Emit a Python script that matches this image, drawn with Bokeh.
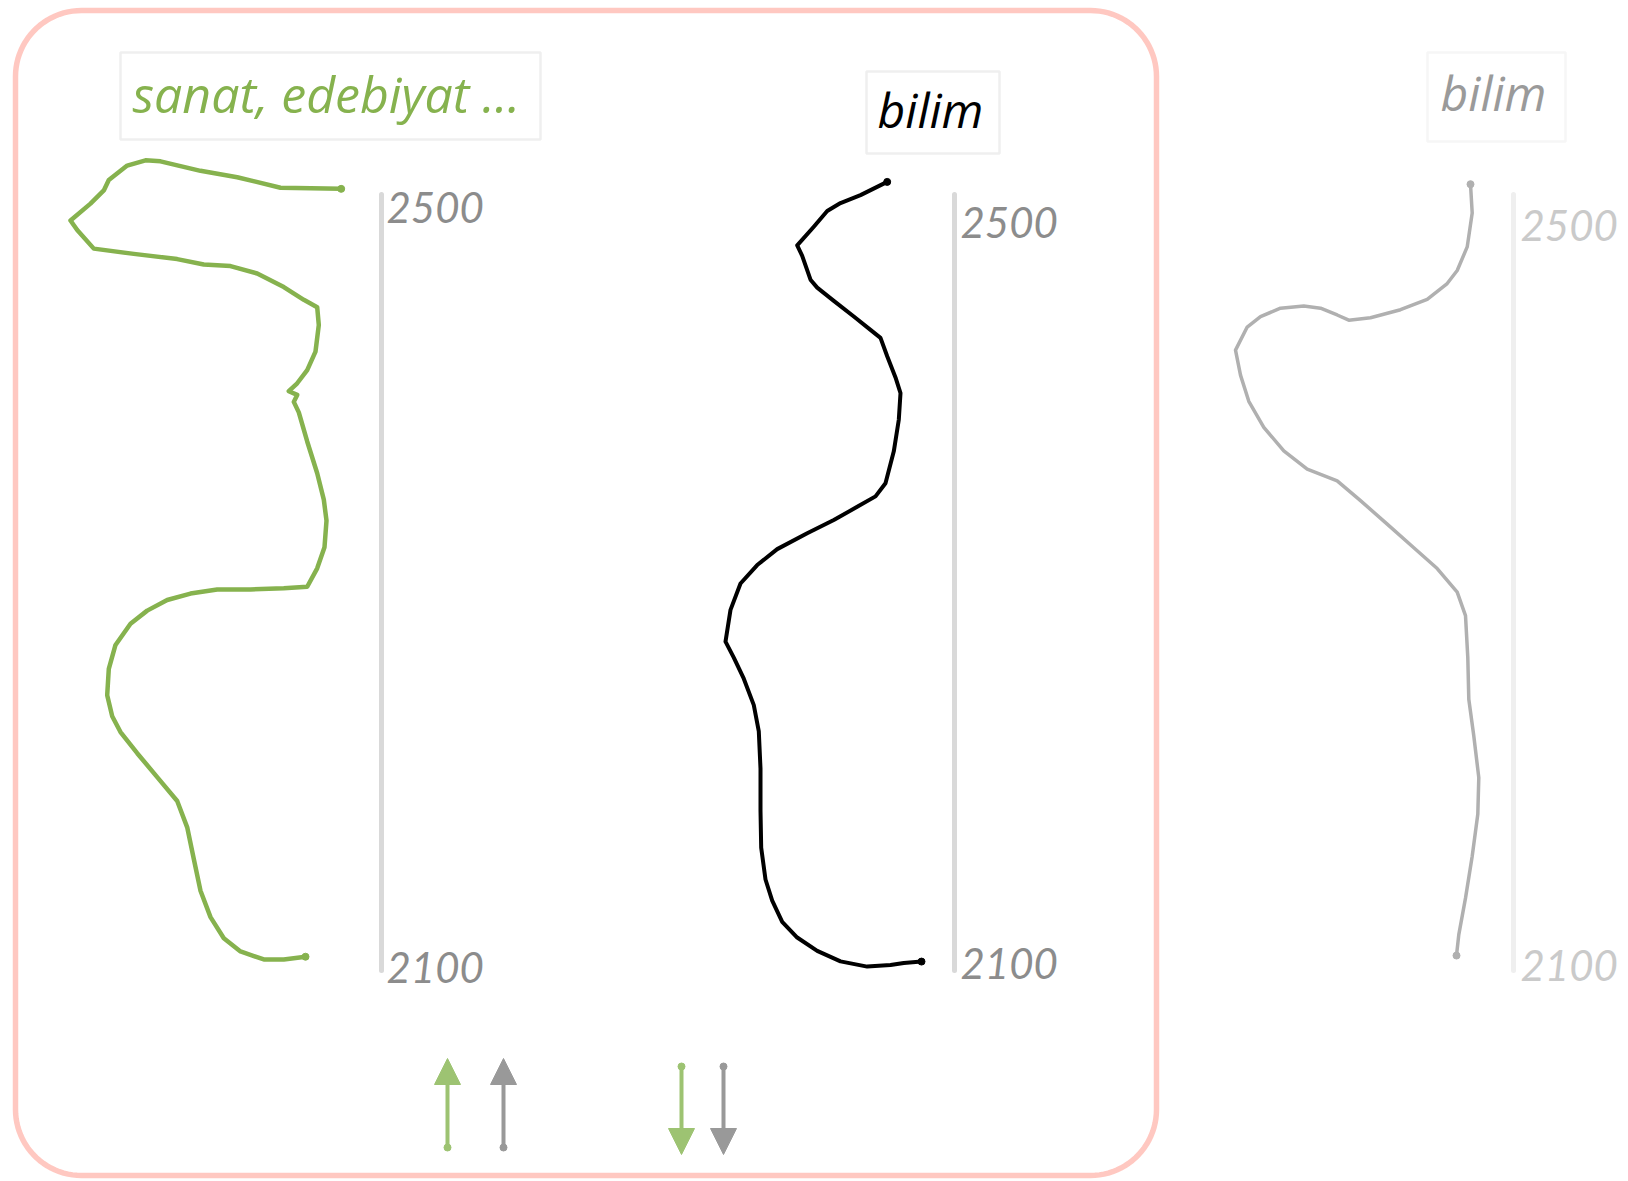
import numpy as np
from bokeh.plotting import figure
from bokeh.models import Range1d, Arrow, NormalHead
from bokeh.core.properties import value
from bokeh.embed import file_html
from bokeh.resources import INLINE

# ---------------- data ----------------
tick_years = [2500, 2100]
tick_labels = ["2500", "2100"]
titles = ["sanat, edebiyat …", "bilim", "bilim"]

sanat_x = [280.7, 220.0, 176.7, 140.0, 100.0, 85.0, 66.7, 48.3, 43.3, 30.0, 10.0, 16.7, 33.3,
           73.3, 116.7, 143.3, 170.0, 196.7, 223.3, 243.3, 256.7, 258.3, 255.0, 246.7, 236.7,
           228.3, 236.7, 233.3, 238.3, 246.7, 256.7, 263.3, 266.0, 264.0, 256.7, 246.7, 223.3,
           190.0, 156.7, 130.0, 106.7, 86.7, 70.0, 55.0, 48.3, 46.7, 51.7, 60.0, 76.7, 96.7,
           116.7, 126.7, 133.3, 140.0, 150.0, 163.3, 180.0, 203.3, 223.3, 245.0]
sanat_y = [2502.9, 2503.5, 2508.9, 2512.2, 2517.1, 2517.6, 2514.9, 2507.5, 2502.1, 2495.3,
           2486.6, 2481.7, 2472.1, 2469.4, 2466.7, 2463.9, 2463.1, 2459.3, 2452.3, 2445.7,
           2441.9, 2432.7, 2419.0, 2409.5, 2402.7, 2398.6, 2396.7, 2393.1, 2387.7, 2372.7,
           2356.3, 2342.7, 2331.9, 2318.2, 2307.3, 2297.8, 2297.0, 2296.4, 2296.4, 2294.3,
           2291.0, 2285.5, 2278.7, 2267.8, 2255.5, 2241.9, 2231.1, 2222.9, 2212.0, 2199.7,
           2187.4, 2173.8, 2157.5, 2141.1, 2127.5, 2116.6, 2109.8, 2105.7, 2105.7, 2107.1]

bilim_x = [186.7, 160.0, 140.0, 126.7, 113.3, 96.7, 101.7, 110.0, 116.7, 133.3, 153.3, 170.0,
           180.0, 186.7, 195.0, 200.0, 198.3, 193.3, 185.0, 175.0, 156.7, 133.3, 106.7, 76.7,
           56.7, 40.0, 30.0, 25.0, 33.3, 43.3, 53.3, 58.3, 60.0, 60.0, 60.7, 65.0, 71.7, 81.7,
           96.7, 116.7, 140.0, 166.7, 190.0, 203.3, 221.0]
bilim_y = [2506.5, 2499.7, 2495.6, 2491.5, 2483.4, 2473.8, 2468.4, 2456.1, 2452.0, 2445.2,
           2437.1, 2430.2, 2426.1, 2416.6, 2405.7, 2397.6, 2383.9, 2367.6, 2351.2, 2344.4,
           2339.0, 2332.2, 2325.4, 2317.2, 2309.0, 2299.5, 2285.9, 2269.5, 2261.3, 2250.4,
           2236.8, 2223.2, 2204.1, 2182.3, 2163.3, 2146.9, 2136.0, 2125.1, 2117.0, 2110.1,
           2104.7, 2102.0, 2102.8, 2103.9, 2104.6]

bilim2_x = [254.0, 255.7, 250.7, 240.7, 230.7, 210.7, 184.0, 154.0, 132.3, 120.7, 104.0, 87.3,
            64.0, 44.0, 30.7, 19.0, 24.0, 32.3, 47.3, 67.3, 90.7, 120.7, 144.0, 170.7, 197.3,
            220.7, 240.7, 249.0, 251.3, 252.3, 257.3, 262.3, 261.3, 255.7, 249.0, 242.3, 240.0]
bilim2_y = [2505.3, 2490.5, 2473.0, 2460.8, 2454.1, 2446.0, 2440.6, 2436.5, 2435.2, 2437.9,
            2441.4, 2442.5, 2441.4, 2437.1, 2431.7, 2419.8, 2406.9, 2393.4, 2380.0, 2367.8,
            2358.4, 2352.4, 2342.2, 2330.1, 2317.9, 2307.2, 2295.0, 2282.9, 2261.3, 2239.8,
            2220.9, 2199.4, 2180.5, 2158.9, 2137.3, 2118.5, 2107.7]

# ---------------- layout (figure pixel space, y down) ----------------
W, H = 1626, 1180
Y2500, Y2100 = 194.0, 970.0
b = 400.0 / (Y2100 - Y2500)
yr_start = 2500 - (H - Y2500) * b
yr_end = 2500 + Y2500 * b

p = figure(width=W, height=H, output_backend="svg", toolbar_location=None,
           x_range=Range1d(0, W), y_range=Range1d(H, 0),
           x_axis_type=None, y_axis_type=None, min_border=0,
           outline_line_color=None, background_fill_color="white",
           border_fill_color="white")
p.grid.visible = False
p.extra_y_ranges = {"yr": Range1d(yr_start, yr_end)}

panel_origin = [60, 700, 1216]
axis_x = [381, 954, 1513]
for i, o in enumerate(panel_origin):
    p.extra_x_ranges["p%d" % i] = Range1d(-o, W - o)

# outer rounded border
def rounded_rect(l, r, t, bt, rad, n=24):
    xs, ys = [], []
    corners = [(l + rad, t + rad, np.pi, 1.5 * np.pi),
               (r - rad, t + rad, 1.5 * np.pi, 2 * np.pi),
               (r - rad, bt - rad, 0, 0.5 * np.pi),
               (l + rad, bt - rad, 0.5 * np.pi, np.pi)]
    for cx, cy, a0, a1 in corners:
        a = np.linspace(a0, a1, n)
        xs.extend(cx + rad * np.cos(a))
        ys.extend(cy + rad * np.sin(a))
    xs.append(xs[0]); ys.append(ys[0])
    return xs, ys

bx, by = rounded_rect(15, 1156, 10, 1175, 66)
p.line(bx, by, line_color="#ffc8c1", line_width=5.5, line_join="round")

# title boxes
box_l = [120, 866, 1427]
box_r = [540, 999, 1565]
box_t = [52, 71, 52]
box_b = [139, 153, 141]
box_lc = ["#efefef", "#efefef", "#f6f6f6"]
p.quad(left=box_l, right=box_r, top=box_t, bottom=box_b, fill_color="white",
       line_color=box_lc, line_width=2.5)

title_x = [132, 930, 1493]
title_y = [93, 109, 92]
title_size = ["50px", "48px", "48px"]
title_align = ["left", "center", "center"]
title_col = ["#86b24e", "#000000", "#9a9a9a"]
for i in range(3):
    p.text(x=[title_x[i]], y=[title_y[i]], text=[titles[i]], text_align=title_align[i],
           text_baseline="middle", text_color=title_col[i],
           text_font=value("Open Sans"), text_font_style="italic",
           text_font_size=title_size[i])

# axes (vertical rules with end labels)
axis_col = ["#d9d9d9", "#d9d9d9", "#efefef"]
lab_col = ["#8c8c8c", "#8c8c8c", "#cacaca"]
lab_dx = [5, 6, 7]
lab_off = [[13, -3], [28, -7], [31, -5]]
for i in range(3):
    p.segment(x0=[axis_x[i]], y0=[tick_years[1]], x1=[axis_x[i]], y1=[tick_years[0]],
              y_range_name="yr", line_color=axis_col[i], line_width=5, line_cap="round")
    p.text(x=[axis_x[i] + lab_dx[i]] * 2, y=tick_years, text=tick_labels,
           y_offset=lab_off[i], y_range_name="yr", text_baseline="middle",
           text_color=lab_col[i], text_font=value("Lato"), text_font_style="italic",
           text_font_size="42px")

# curves
series = [(sanat_x, sanat_y, "#86b24e", 4.5), (bilim_x, bilim_y, "#000000", 4.0),
          (bilim2_x, bilim2_y, "#b0b0b0", 3.5)]
for i, (xs, ys, c, lw) in enumerate(series):
    p.line(xs, ys, x_range_name="p%d" % i, y_range_name="yr", line_color=c,
           line_width=lw, line_join="round", line_cap="round")
    p.scatter([xs[0], xs[-1]], [ys[0], ys[-1]], x_range_name="p%d" % i, y_range_name="yr",
              size=7, color=c)

# legend-like arrows at the bottom
arr_x = [447, 503, 681, 723]
arr_y0 = [1147, 1147, 1066, 1066]
arr_y1 = [1058, 1058, 1154, 1154]
arr_c = ["#9dc372", "#999999", "#9dc372", "#999999"]
for x, y0, y1, c in zip(arr_x, arr_y0, arr_y1, arr_c):
    p.add_layout(Arrow(x_start=x, y_start=y0, x_end=x, y_end=y1, line_color=c, line_width=4,
                       end=NormalHead(size=26, fill_color=c, line_color=c, line_width=1)))
    p.scatter([x], [y0], size=7, color=c)

open("out.html", "w").write(file_html(p, INLINE))
